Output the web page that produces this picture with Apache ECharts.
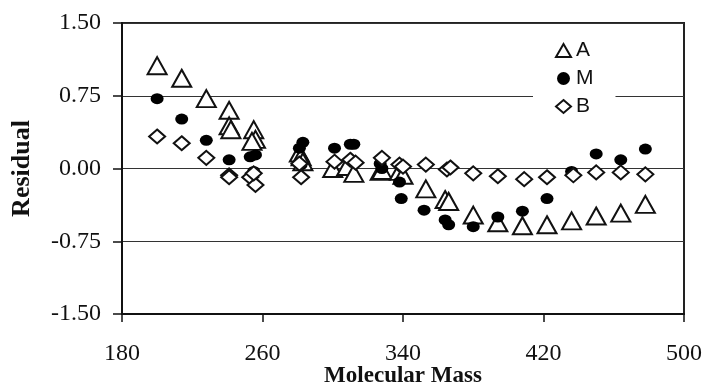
<!DOCTYPE html>
<html><head><meta charset="utf-8">
<script src="https://cdn.jsdelivr.net/npm/echarts@6/dist/echarts.min.js"></script>
<style>html,body{margin:0;padding:0;background:#fff}#c{width:707px;height:387px}</style>
</head><body><div id="c"></div>
<script>
var xTicks = [180, 260, 340, 420, 500];
var yTicks = [-1.5, -0.75, 0, 0.75, 1.5];
var seriesNames = ['A', 'M', 'B'];
var xTitle = 'Molecular Mass';
var yTitle = 'Residual';
var seriesA = [[200,1.06],[214,0.93],[228,0.72],[241,0.60],[241,0.44],[242,0.40],[255,0.40],[256,0.30],[254,0.28],[281,0.16],[282,0.12],[283,0.07],[300,0.00],[308,0.02],[312,-0.05],[327,-0.03],[328,-0.02],[338,-0.03],[340,-0.07],[353,-0.21],[364,-0.32],[366,-0.34],[380,-0.48],[394,-0.56],[408,-0.59],[422,-0.58],[436,-0.54],[450,-0.49],[464,-0.46],[478,-0.37]];
var seriesM = [[200,0.72],[214,0.51],[228,0.29],[241,0.09],[253,0.12],[256,0.14],[255,-0.03],[281,0.21],[283,0.27],[282,0.04],[301,0.21],[310,0.25],[312,0.25],[327,0.05],[328,0.00],[338,-0.14],[339,-0.31],[352,-0.43],[364,-0.53],[366,-0.58],[380,-0.60],[394,-0.50],[408,-0.44],[422,-0.31],[436,-0.03],[450,0.15],[464,0.09],[478,0.20]];
var seriesB = [[200,0.33],[214,0.26],[228,0.11],[241,-0.07],[241,-0.09],[253,-0.09],[256,-0.17],[255,-0.05],[282,-0.09],[281,0.05],[301,0.07],[310,0.09],[313,0.06],[328,0.11],[338,0.04],[340,0.02],[353,0.04],[365,-0.01],[367,0.01],[380,-0.05],[394,-0.08],[409,-0.11],[422,-0.09],[437,-0.07],[450,-0.04],[464,-0.04],[478,-0.06]];

var chart = echarts.init(document.getElementById('c'));
var serif = '"Liberation Serif", "Times New Roman", serif';
var sans = '"Liberation Sans", Arial, sans-serif';
chart.setOption({
  animation: false,
  backgroundColor: '#fff',
  title: {
    text: xTitle, left: 403, top: 365, textAlign: 'center', padding: 0,
    textStyle: {fontFamily: serif, fontSize: 23, fontWeight: 'bold', color: '#111'}
  },
  grid: {left: 122, top: 23, right: 23, bottom: 73, containLabel: false, outerBoundsMode: 'none',
         show: true, borderColor: '#222', borderWidth: 2, backgroundColor: 'transparent'},
  legend: {
    orient: 'vertical', left: 533, top: 30,
    backgroundColor: '#fff',
    padding: [10, 22, 8, 22],
    itemWidth: 15, itemHeight: 13, itemGap: 7,
    textStyle: {fontFamily: sans, fontSize: 21, color: '#111'},
    data: seriesNames
  },
  xAxis: {
    type: 'value', min: xTicks[0], max: xTicks[xTicks.length - 1], interval: 80,
    axisLine: {show: true, onZero: false, lineStyle: {color: '#111', width: 2}},
    axisTick: {show: true, inside: false, length: 8, lineStyle: {color: '#111', width: 1.5}},
    axisLabel: {fontFamily: serif, fontSize: 24, color: '#111', margin: 28},
    splitLine: {show: false}
  },
  yAxis: {
    type: 'value', min: yTicks[0], max: yTicks[yTicks.length - 1], interval: 0.75,
    name: yTitle, nameLocation: 'middle', nameGap: 87, nameRotate: 90,
    nameTextStyle: {fontFamily: serif, fontSize: 26, fontWeight: 'bold', color: '#111'},
    axisLine: {show: true, onZero: false, lineStyle: {color: '#111', width: 2}},
    axisTick: {show: true, inside: false, length: 9, lineStyle: {color: '#111', width: 1.5}},
    axisLabel: {fontFamily: serif, fontSize: 24, color: '#111', margin: 21, formatter: function (v) { return v.toFixed(2); }},
    splitLine: {show: true, lineStyle: {color: '#333', width: 1.2}}
  },
  series: [
    {name: 'A', type: 'scatter', data: seriesA, symbol: 'triangle', symbolSize: [19, 17], z: 2,
     itemStyle: {color: '#fff', borderColor: '#111', borderWidth: 2, opacity: 1}},
    {name: 'M', type: 'scatter', data: seriesM, symbol: 'circle', symbolSize: [13, 11], z: 3,
     itemStyle: {color: '#000', borderColor: '#000', borderWidth: 0, opacity: 1}},
    {name: 'B', type: 'scatter', data: seriesB, symbol: 'diamond', symbolSize: [16, 14], z: 4,
     itemStyle: {color: '#fff', borderColor: '#111', borderWidth: 2, opacity: 1}}
  ]
});
</script></body></html>
